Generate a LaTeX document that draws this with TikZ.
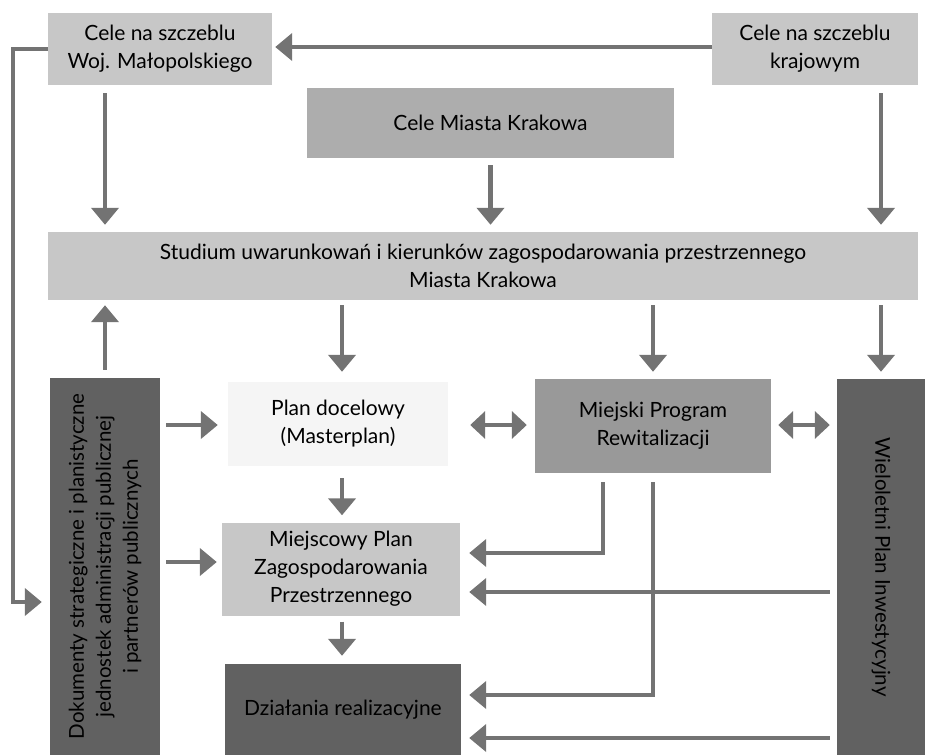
\documentclass[tikz,border=0pt]{standalone}
\usepackage{fontspec}
\setmainfont{Lato}
\usetikzlibrary{arrows.meta,calc}
\begin{document}
\begin{tikzpicture}[x=1pt,y=-1pt,
  box/.style={inner sep=0pt, align=center, font=\fontsize{21}{28}\selectfont, text=black},
  light/.style={box, fill=black!22},
  mid/.style={box, fill=black!32},
  midd/.style={box, fill=black!40},
  dark/.style={box, fill=black!62},
  faint/.style={box, fill=black!4},
  vtext/.style={align=center, inner sep=0pt, font=\fontsize{20.5}{27}\selectfont},
  arr/.style={line width=4.5pt, draw=black!55, -{Triangle[width=27pt,length=17pt,fill=black!55]}},
  darr/.style={line width=4.5pt, draw=black!55, {Triangle[width=27pt,length=15pt,fill=black!55]}-{Triangle[width=27pt,length=15pt,fill=black!55]}},
  ln/.style={line width=4.5pt, draw=black!55}
]
\useasboundingbox (0,0) rectangle (925,755);
% nodes
\node[light, minimum width=224pt, minimum height=72pt] (woj) at (160,49) {Cele na szczeblu\\Woj. Małopolskiego};
\node[light, minimum width=206pt, minimum height=72pt] (kraj) at (815,49) {Cele na szczeblu\\krajowym};
\node[mid, minimum width=367pt, minimum height=70pt] (cel) at (490.5,123) {Cele Miasta Krakowa};
\node[light, minimum width=870pt, minimum height=68pt] (stud) at (483,266) {Studium uwarunkowań i kierunków zagospodarowania przestrzennego\\Miasta Krakowa};
\node[dark, minimum width=110pt, minimum height=377pt] (doc) at (105,566.5) {};
\node[vtext, rotate=90] (doctext) at (doc.center) {Dokumenty strategiczne i planistyczne\\jednostek administracji publicznej\\i partnerów publicznych};
\node[faint, minimum width=220pt, minimum height=84pt] (plan) at (338,424) {Plan docelowy\\(Masterplan)};
\node[midd, minimum width=236pt, minimum height=94pt] (mpr) at (653,426) {Miejski Program\\Rewitalizacji};
\node[dark, minimum width=88pt, minimum height=376pt] (wpi) at (881,567) {};
\node[vtext, rotate=-90] (wpitext) at (wpi.center) {Wieloletni Plan Inwestycyjny};
\node[light, minimum width=238pt, minimum height=93pt] (mpz) at (341,569) {Miejscowy Plan\\Zagospodarowania\\Przestrzennego};
\node[dark, minimum width=236pt, minimum height=91pt] (dz) at (343,709.5) {Działania realizacyjne};
% connectors
\draw[arr, shorten >=3pt] (kraj.west |- 0,47) -- (woj.east |- 0,47);
\coordinate (lp) at (13,602);
\draw[arr, shorten >=8pt] (woj.west) -| (lp) -- (doc.west |- lp);
\draw[arr, shorten <=8pt, shorten >=7pt] (woj.south -| doc.north) -- (stud.north -| doc.north);
\draw[arr, shorten <=7pt, shorten >=7pt] (cel.south) -- (stud.north -| cel.south);
\draw[arr, shorten <=8pt, shorten >=7pt] (kraj.south -| wpi.north) -- (stud.north -| wpi.north);
\draw[arr, shorten <=8pt, shorten >=5pt] (doc.north) -- (stud.south -| doc.north);
\draw[arr, shorten <=5pt, shorten >=10pt] (stud.south -| 342,0) -- (plan.north -| 342,0);
\draw[arr, shorten <=5pt, shorten >=7pt] (stud.south -| mpr.north) -- (mpr.north);
\draw[arr, shorten <=5pt, shorten >=7pt] (stud.south -| wpi.north) -- (wpi.north);
\draw[arr, shorten <=6pt, shorten >=10pt] (doc.east |- 0,425) -- (plan.west |- 0,425);
\draw[arr, shorten <=6pt, shorten >=5pt] (doc.east |- 0,562) -- (mpz.west |- 0,562);
\draw[darr, shorten <=22pt, shorten >=8pt] (plan.east |- 0,425) -- (mpr.west |- 0,425);
\draw[darr, shorten <=7pt, shorten >=7pt] (mpr.east |- 0,425) -- (wpi.west |- 0,425);
\draw[arr, shorten <=12pt, shorten >=7pt] (plan.south -| 342,0) -- (mpz.north -| 342,0);
\draw[arr, shorten <=6pt, shorten >=8pt] (mpz.south -| 342,0) -- (dz.north -| 342,0);
\draw[arr, shorten >=9pt] ($(mpr.south)+(-50,9)$) |- ($(mpz.east)+(0,-16)$);
\draw[arr, shorten >=8pt] ($(mpr.south)+(0,9)$) |- ($(dz.east)+(0,-14.5)$);
\draw[arr, shorten <=7pt, shorten >=9pt] ($(wpi.west)+(0,25)$) -- ($(mpz.east |- wpi.west)+(0,25)$);
\draw[arr, shorten <=7pt, shorten >=8pt] ($(wpi.west)+(0,171)$) -- ($(dz.east |- wpi.west)+(0,171)$);
\end{tikzpicture}
\end{document}
